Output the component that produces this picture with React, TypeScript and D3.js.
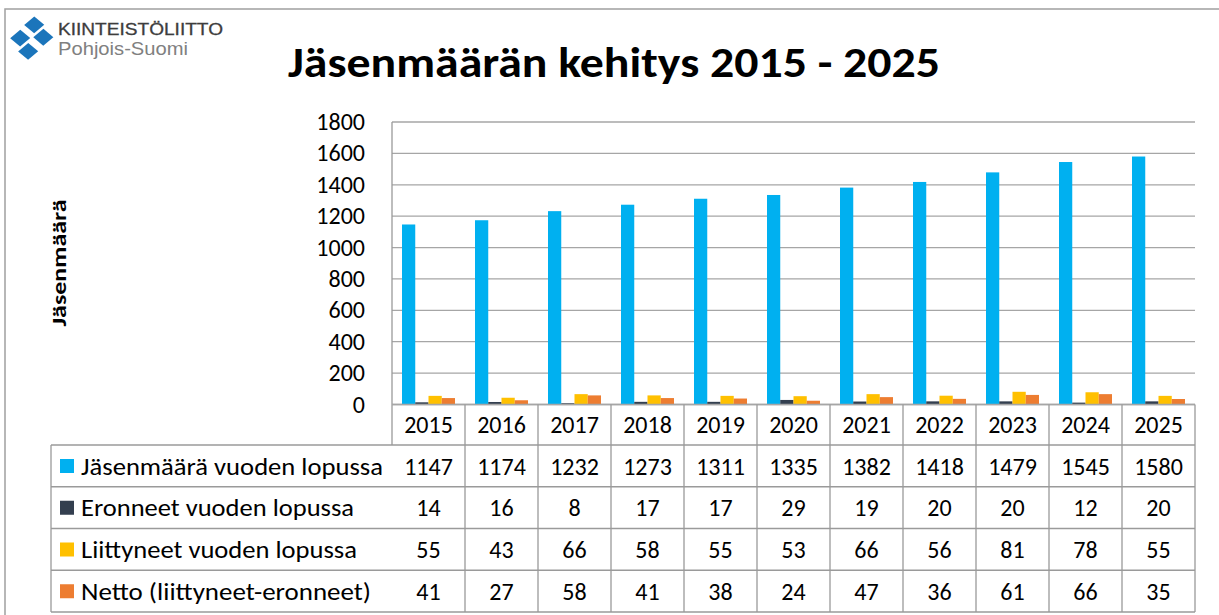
import React from "react";
import * as d3 from "d3";

const years = ["2015", "2016", "2017", "2018", "2019", "2020", "2021", "2022", "2023", "2024", "2025"];
const seriesNames = [
  "Jäsenmäärä vuoden lopussa",
  "Eronneet vuoden lopussa",
  "Liittyneet vuoden lopussa",
  "Netto (liittyneet-eronneet)",
];
const members = [1147, 1174, 1232, 1273, 1311, 1335, 1382, 1418, 1479, 1545, 1580];
const resigned = [14, 16, 8, 17, 17, 29, 19, 20, 20, 12, 20];
const joined = [55, 43, 66, 58, 55, 53, 66, 56, 81, 78, 55];
const net = [41, 27, 58, 41, 38, 24, 47, 36, 61, 66, 35];
const colors = ["#00B0F0", "#333F4F", "#FFC000", "#ED7D31"];
const yTicks = [0, 200, 400, 600, 800, 1000, 1200, 1400, 1600, 1800];
const labelWidths = [302, 273, 276, 290];

const FONT = "Calibri, Carlito, Lato, 'Open Sans', sans-serif";

export default function App() {
  const W = 1219, H = 615;
  const plotL = 392, plotR = 1195, plotT = 122, plotB = 404.5;
  const series = [members, resigned, joined, net];
  const x = d3.scaleBand<string>().domain(years).range([plotL, plotR]).paddingInner(0).paddingOuter(0);
  const bw = x.bandwidth();
  const inner = d3.scaleBand<number>().domain([0, 1, 2, 3]).range([bw * 0.137, bw * 0.863]).paddingInner(0).paddingOuter(0);
  const y = d3.scaleLinear().domain([0, 1800]).range([plotB, plotT]);
  const tableTop = 445, rowH = 41.75, legL = 51;
  const gridC = "#A6A6A6";
  const lineC = "#9A9A9A";
  const fs = 24;

  return (
    <svg width={W} height={H} style={{ position: "absolute", left: 0, top: 0 }} fontFamily={FONT}>
      <rect x={0} y={0} width={W} height={H} fill="#fff" />
      <rect x={5} y={9} width={W + 10} height={H + 10} fill="none" stroke="#A0A0A0" strokeWidth={1.5} />
      {/* logo */}
      <g fill="#1B75BB">
        {[[38, 28], [26, 43], [49, 42], [36, 58]].map(([cx, cy], i) => (
          <rect key={i} x={cx - 6.5} y={cy - 6.5} width={13} height={13} transform={`rotate(40 ${cx} ${cy}) skewX(-10)`} />
        ))}
      </g>
      <text x={58} y={35} fontFamily="'Liberation Sans Narrow', 'Liberation Sans', Arial, sans-serif" fontSize={17} fill="#3D3D3D" stroke="#3D3D3D" strokeWidth={0.3} textLength={165} lengthAdjust="spacingAndGlyphs">KIINTEISTÖLIITTO</text>
      <text x={58} y={55} fontFamily="'Liberation Sans', Arial, sans-serif" fontSize={19} fill="#808080" textLength={130} lengthAdjust="spacingAndGlyphs">Pohjois-Suomi</text>
      {/* title */}
      <text x={288} y={77} fontSize={42} fontWeight="bold" fill="#000" textLength={652} lengthAdjust="spacingAndGlyphs">Jäsenmäärän kehitys 2015 - 2025</text>
      {/* y axis label */}
      <text transform={`translate(66,263) rotate(-90)`} textAnchor="middle" fontSize={21} fontWeight="bold" fill="#000" textLength={127} lengthAdjust="spacingAndGlyphs">Jäsenmäärä</text>
      {/* gridlines */}
      {yTicks.map((t) => (
        <g key={t}>
          <line x1={plotL} x2={plotR} y1={y(t)} y2={y(t)} stroke={gridC} strokeWidth={1.3} />
          <text x={365} y={y(t) + 8} textAnchor="end" fontSize={fs} fill="#000">{t}</text>
        </g>
      ))}
      {/* bars */}
      {years.map((yr, i) => (
        <g key={yr}>
          {series.map((s, k) => (
            <rect key={k} x={(x(yr) ?? 0) + (inner(k) ?? 0)} y={y(s[i])} width={inner.bandwidth()} height={plotB - y(s[i])} fill={colors[k]} />
          ))}
        </g>
      ))}
      {/* axis line */}
      <line x1={plotL} x2={plotL} y1={plotT} y2={tableTop} stroke={lineC} strokeWidth={1.3} />
      <line x1={plotL} x2={plotR} y1={plotB} y2={plotB} stroke={gridC} strokeWidth={1.3} />
      {/* year row */}
      {years.map((yr, i) => (
        <g key={yr}>
          <line x1={(x(yr) ?? 0) + bw} x2={(x(yr) ?? 0) + bw} y1={plotB} y2={tableTop + rowH * 4} stroke={lineC} strokeWidth={1.3} />
          <text x={(x(yr) ?? 0) + bw / 2} y={433} textAnchor="middle" fontSize={fs} fill="#000">{yr}</text>
        </g>
      ))}
      {/* table */}
      {seriesNames.map((name, k) => (
        <g key={name}>
          <line x1={legL} x2={plotR} y1={tableTop + rowH * k} y2={tableTop + rowH * k} stroke={lineC} strokeWidth={1.3} />
          <rect x={60} y={tableTop + rowH * k + 14} width={14} height={14} fill={colors[k]} />
          <text x={81} y={tableTop + rowH * k + 29.5} fontSize={fs} fill="#000" textLength={labelWidths[k]} lengthAdjust="spacingAndGlyphs">{name}</text>
          {years.map((yr, i) => (
            <text key={yr} x={(x(yr) ?? 0) + bw / 2} y={tableTop + rowH * k + 29.5} textAnchor="middle" fontSize={fs} fill="#000">{series[k][i]}</text>
          ))}
        </g>
      ))}
      <line x1={legL} x2={plotR} y1={tableTop + rowH * 4} y2={tableTop + rowH * 4} stroke={lineC} strokeWidth={1.3} />
      <line x1={legL} x2={legL} y1={tableTop} y2={tableTop + rowH * 4} stroke={lineC} strokeWidth={1.3} />
    </svg>
  );
}
